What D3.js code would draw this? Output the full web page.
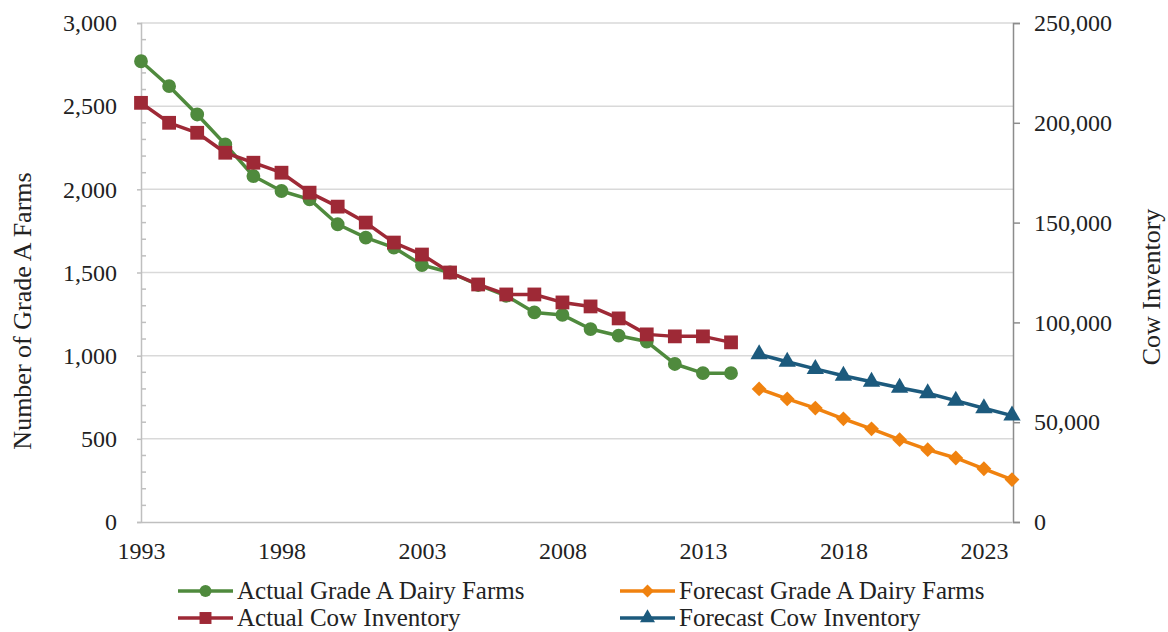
<!DOCTYPE html>
<html><head><meta charset="utf-8">
<script src="https://cdn.jsdelivr.net/npm/d3@7"></script>
<style>body{margin:0;background:#fff}text{font-family:"Liberation Serif","DejaVu Serif",serif;fill:#222}</style>
</head><body><svg id="c" width="1168" height="632"></svg>
<script>
const actualYears = d3.range(1993, 2015);
const forecastYears = d3.range(2015, 2025);
const actualFarms = [2770,2620,2450,2270,2080,1990,1940,1790,1710,1650,1545,1500,1425,1360,1260,1245,1160,1120,1085,950,895,895];
const actualCows = [210000,200000,195000,185000,180000,175000,165000,158000,150000,140000,134000,125000,119000,114000,114000,110000,108000,102000,94000,93000,93000,90000];
const forecastFarms = [800,740,685,620,560,495,435,385,320,255];
const forecastCows = [84000,80300,76700,73300,70300,67300,64500,60800,57000,53300];
const xTicks = [1993,1998,2003,2008,2013,2018,2023];
const leftTicks = [0,500,1000,1500,2000,2500,3000];
const rightTicks = [0,50000,100000,150000,200000,250000];
const legendLabels = ["Actual Grade A Dairy Farms","Forecast Grade A Dairy Farms","Actual Cow Inventory","Forecast Cow Inventory"];

const svg = d3.select("#c");
const L = 141, R = 1013, T = 23, B = 522;
const x = d3.scaleLinear().domain([1993, 2024]).range([L, R - 1]);
const yL = d3.scaleLinear().domain([0, 3000]).range([B, T]);
const yR = d3.scaleLinear().domain([0, 250000]).range([B, T]);
const fmt = d3.format(",");
const FS = 24, LFS = 25, TFS = 26;
const FF = '"Liberation Serif",serif';

// gridlines
svg.append("g").selectAll("line").data(leftTicks.filter(d => d > 0)).join("line")
  .attr("x1", L).attr("x2", R).attr("y1", d => yL(d)).attr("y2", d => yL(d))
  .attr("stroke", "#d9d9d9").attr("stroke-width", 1.5);

// left axis
const gl = svg.append("g").attr("transform", `translate(${L},0)`)
  .call(d3.axisLeft(yL).tickValues(leftTicks).tickFormat(fmt).tickSize(4).tickPadding(20));
gl.select(".domain").attr("stroke", "#bfbfbf").attr("stroke-width", 1.5);
gl.selectAll(".tick line").attr("stroke", "#bfbfbf").attr("stroke-width", 1.5);
gl.selectAll("text").attr("font-size", FS).attr("fill", "#222").style("font-family", FF);
// minor ticks
svg.append("g").selectAll("line").data(d3.range(100, 3000, 100).filter(d => d % 500 !== 0)).join("line")
  .attr("x1", L).attr("x2", L + 5).attr("y1", d => yL(d)).attr("y2", d => yL(d))
  .attr("stroke", "#bfbfbf").attr("stroke-width", 1.5);

// right axis
const gr = svg.append("g").attr("transform", `translate(${R},0)`)
  .call(d3.axisRight(yR).tickValues(rightTicks).tickFormat(fmt).tickSize(7).tickPadding(14));
gr.select(".domain").attr("stroke", "#8c8c8c").attr("stroke-width", 1.5);
gr.selectAll(".tick line").attr("stroke", "#8c8c8c").attr("stroke-width", 1.5);
gr.selectAll("text").attr("font-size", FS).attr("fill", "#222").style("font-family", FF);

// bottom axis
const gb = svg.append("g").attr("transform", `translate(0,${B})`)
  .call(d3.axisBottom(x).tickValues(xTicks).tickFormat(d3.format("d")).tickSize(0).tickPadding(20));
gb.select(".domain").attr("stroke", "#bfbfbf").attr("stroke-width", 1.5);
gb.selectAll("text").attr("font-size", FS).attr("fill", "#222").style("font-family", FF);

// axis titles
svg.append("text").attr("transform", `translate(31,311) rotate(-90)`).attr("text-anchor", "middle")
  .attr("font-size", TFS).text("Number of Grade A Farms");
svg.append("text").attr("transform", `translate(1160,287) rotate(-90)`).attr("text-anchor", "middle")
  .attr("font-size", TFS).text("Cow Inventory");

const colors = {green:"#4f8a3d", red:"#9e2936", orange:"#f0820f", blue:"#1c5a7d"};
const diamond = { draw(ctx, size) { const s = Math.sqrt(size) / Math.SQRT2; ctx.moveTo(0,-s); ctx.lineTo(s,0); ctx.lineTo(0,s); ctx.lineTo(-s,0); ctx.closePath(); } };
const series = [
  {years: actualYears, vals: actualFarms, y: yL, color: colors.green, sym: d3.symbolCircle, size: 150},
  {years: actualYears, vals: actualCows, y: yR, color: colors.red, sym: d3.symbolSquare, size: 190},
  {years: forecastYears, vals: forecastFarms, y: yL, color: colors.orange, sym: diamond, size: 110},
  {years: forecastYears, vals: forecastCows, y: yR, color: colors.blue, sym: d3.symbolTriangle, size: 130},
];
series.forEach(s => {
  const pts = s.years.map((yr, i) => [x(yr), s.y(s.vals[i])]);
  svg.append("path").attr("d", d3.line()(pts)).attr("fill", "none")
    .attr("stroke", s.color).attr("stroke-width", 3.5).attr("stroke-linejoin", "round");
  svg.append("g").selectAll("path").data(pts).join("path")
    .attr("transform", d => `translate(${d[0]},${d[1]})`)
    .attr("d", d3.symbol().type(s.sym).size(s.size)).attr("fill", s.color);
});

// legend
const legend = [
  {label: legendLabels[0], s: series[0], x: 178, y: 591},
  {label: legendLabels[1], s: series[2], x: 620, y: 591},
  {label: legendLabels[2], s: series[1], x: 178, y: 618},
  {label: legendLabels[3], s: series[3], x: 620, y: 618},
];
legend.forEach(l => {
  const g = svg.append("g").attr("transform", `translate(${l.x},${l.y})`);
  g.append("line").attr("x1", 0).attr("x2", 55).attr("stroke", l.s.color).attr("stroke-width", 3.5);
  g.append("path").attr("transform", "translate(27.5,0)").attr("d", d3.symbol().type(l.s.sym).size(l.s.size * 0.75)).attr("fill", l.s.color);
  g.append("text").attr("x", 59).attr("dy", "0.33em").attr("font-size", LFS).text(l.label);
});
</script></body></html>
